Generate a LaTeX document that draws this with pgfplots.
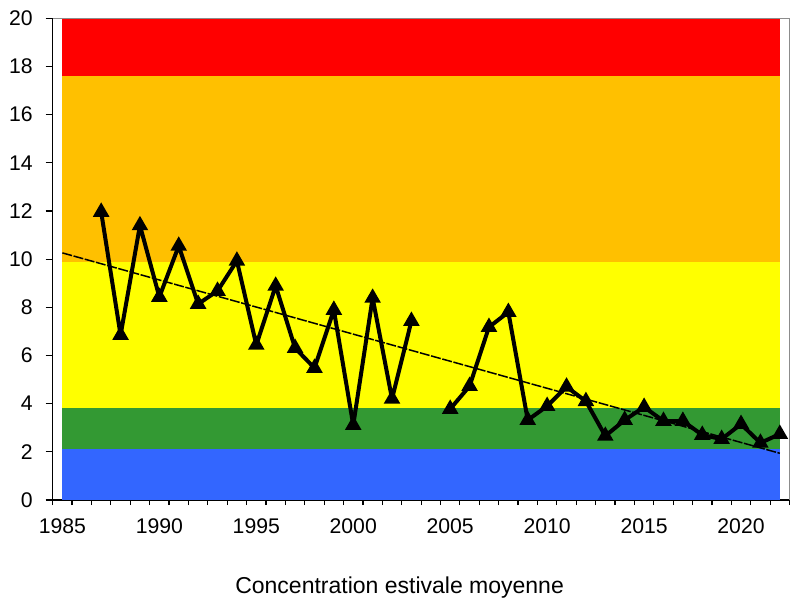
\documentclass[border=0pt]{standalone}
\usepackage{pgfplots}
\pgfplotsset{compat=1.18}
\usepackage{fontspec}
\setmainfont{Liberation Sans}

\definecolor{bandred}{HTML}{FF0000}
\definecolor{bandorange}{HTML}{FFC000}
\definecolor{bandyellow}{HTML}{FFFF00}
\definecolor{bandgreen}{HTML}{339933}
\definecolor{bandblue}{HTML}{3366FF}
\definecolor{framegray}{HTML}{8C8C8C}

\begin{document}
\begin{tikzpicture}
  \begin{axis}[
      scale only axis,
      width=368.4pt,
      height=240.85pt,
      xmin=1984.5, xmax=2022.5,
      ymin=0, ymax=20,
      axis x line*=bottom,
      axis y line*=left,
      axis line style={black, line width=0.6pt},
      tick align=outside,
      major tick length=3.5pt,
      minor tick length=2.5pt,
      tick style={black, line width=0.6pt},
      xtick={1985,1990,...,2020},
      every major x tick/.append style={draw=none},
      minor xtick={1984.5,1985.5,...,2022.5},
      ytick={0,2,...,20},
      /pgf/number format/assume math mode=true,
      /pgf/number format/1000 sep={},
      ticklabel style={font=\fontsize{10.6}{12}\selectfont, inner sep=0pt},
      yticklabel style={anchor=east, xshift=-6.3pt},
      xticklabel style={anchor=north, yshift=-5.5pt},
      xlabel={Concentration estivale moyenne},
      xlabel style={font=\fontsize{11.5}{13}\selectfont, inner sep=0pt,
        anchor=base, at={(axis description cs:0.5,0)}, yshift=-46.5pt, xshift=-10.75pt},
      clip=false,
    ]

    % seuils de qualite (bandes de couleur)
    \addplot[draw=none, fill=bandblue] coordinates {(1985,0) (2022,0) (2022,2.1) (1985,2.1)} -- cycle;
    \addplot[draw=none, fill=bandgreen] coordinates {(1985,2.1) (2022,2.1) (2022,3.8) (1985,3.8)} -- cycle;
    \addplot[draw=none, fill=bandyellow] coordinates {(1985,3.8) (2022,3.8) (2022,9.9) (1985,9.9)} -- cycle;
    \addplot[draw=none, fill=bandorange] coordinates {(1985,9.9) (2022,9.9) (2022,17.6) (1985,17.6)} -- cycle;
    \addplot[draw=none, fill=bandred] coordinates {(1985,17.6) (2022,17.6) (2022,20) (1985,20)} -- cycle;

    % cadre gris
    \draw[framegray, line width=0.6pt] (rel axis cs:0,1) -- (rel axis cs:1,1) -- (rel axis cs:1,0);

    % tendance lineaire
    \addplot[black, line width=0.75pt, dash pattern=on 5pt off 0.8pt] coordinates {
      (1985,10.26) (2022,1.94)
    };

    % concentration estivale moyenne
    \addplot[black, line width=2pt, line join=round, unbounded coords=jump,
      mark=triangle*, mark size=2.8pt, mark options={solid, line join=miter}] coordinates {
      (1987,11.96) (1988,6.85) (1989,11.4) (1990,8.43) (1991,10.55)
      (1992,8.14) (1993,8.68) (1994,9.93) (1995,6.44) (1996,8.89)
      (1997,6.31) (1998,5.48) (1999,7.89) (2000,3.11) (2001,8.39)
      (2002,4.2) (2003,7.43) (2004,nan)
      (2005,3.78) (2006,4.73) (2007,7.18) (2008,7.8) (2009,3.32)
      (2010,3.9) (2011,4.7) (2012,4.1) (2013,2.66) (2014,3.32)
      (2015,3.86) (2016,3.28) (2017,3.28) (2018,2.7) (2019,2.53)
      (2020,3.15) (2021,2.37) (2022,2.74)
    };
  \end{axis}
  \pgfresetboundingbox
  \path[use as bounding box] ([shift={(-26.35pt,-50.5pt)}]current axis.south west)
    rectangle ([shift={(2.75pt,9.15pt)}]current axis.north east);
\end{tikzpicture}
\end{document}
